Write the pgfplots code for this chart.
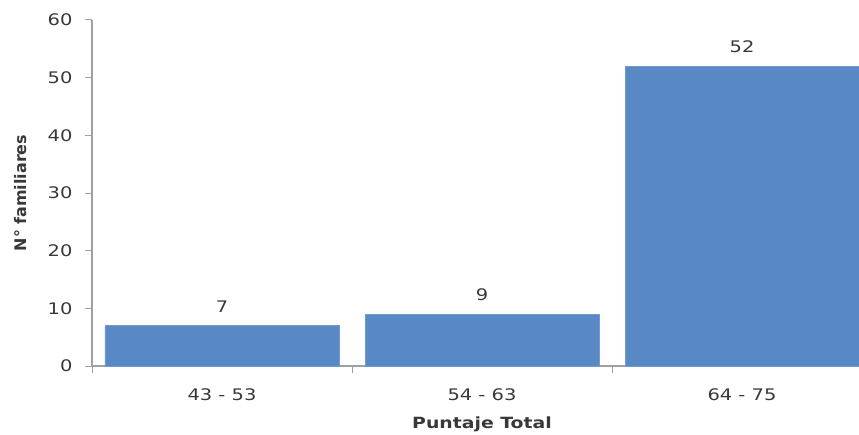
\documentclass[border=0pt]{standalone}
\usepackage{fontspec}
\setmainfont{DejaVu Sans}[FakeStretch=1.22]
\newfontfamily\ylfont{DejaVu Sans}
\usepackage{pgfplots}
\pgfplotsset{compat=1.18}
\definecolor{barblue}{HTML}{5889C4}
\definecolor{axgray}{HTML}{A0A0A0}
\definecolor{txt}{HTML}{383838}
\begin{document}
\begin{tikzpicture}
\useasboundingbox (-92bp,-69bp) rectangle (767bp,366bp);
\begin{axis}[
  at={(0,0)}, anchor=south west,
  width=767bp, height=346bp, scale only axis,
  xmin=-0.5, xmax=2.45, ymin=0, ymax=60,
  axis x line*=bottom, axis y line*=left,
  axis line style={axgray, line width=1.2pt, -},
  ytick={0,10,...,60},
  xtick={0,1,2},
  xticklabels={43 - 53, 54 - 63, 64 - 75},
  x tick style={draw=none},
  y tick style={axgray, line width=1pt},
  tick align=outside,
  major tick length=7bp,
  extra x ticks={-0.5,0.5,1.5},
  extra x tick labels={},
  extra x tick style={x tick style={draw=axgray, line width=1pt}, major tick length=7bp},
  ticklabel style={font=\fontsize{16}{19}\selectfont, text=txt},
  yticklabel style={xshift=-9bp},
  xticklabel style={yshift=-12bp},
  /pgf/number format/assume math mode=true,
  xlabel={\textbf{Puntaje Total}},
  ylabel={\ylfont\bfseries N° familiares},
  label style={font=\fontsize{15.5}{18}\selectfont, text=txt},
  xlabel style={at={(axis cs:1,0)}, anchor=south, yshift=-69bp},
  ylabel style={at={(axis description cs:-0.093,0.5)}, anchor=center, font=\fontsize{16}{19}\selectfont},
  ybar, bar width=0.9,
  nodes near coords,
  nodes near coords style={font=\fontsize{16}{19}\selectfont, text=txt, yshift=10bp},
  clip=false,
]
\addplot[fill=barblue, draw=barblue!85!white, line width=0.4pt] coordinates {(0,7) (1,9) (2,52)};
\end{axis}
\end{tikzpicture}
\end{document}
